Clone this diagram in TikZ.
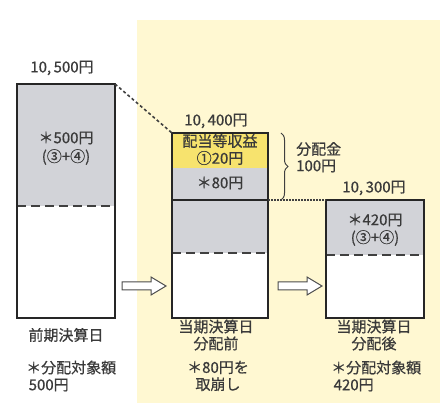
\documentclass[tikz,border=0pt]{standalone}
\usepackage{fontspec}
\setmainfont{Noto Sans CJK JP}[FakeBold=0.6]
\usetikzlibrary{decorations.pathreplacing}
\definecolor{bgyellow}{HTML}{FFF8D2}
\definecolor{boxgray}{HTML}{D2D3D8}
\definecolor{divyellow}{HTML}{F7E36E}
\definecolor{txt}{HTML}{3A3A3A}
\tikzset{
  boxline/.style={draw=black!85, line width=1.8pt},
  sepline/.style={draw=black!85, line width=2.4pt},
  dashsep/.style={draw=black!75, line width=1.6pt, dash pattern=on 9pt off 5pt},
  lbl/.style={text=txt, inner sep=0pt, align=center},
  hollowarrow/.style={draw=black!70, fill=white, line width=1pt, line join=miter},
}
\begin{document}
\begin{tikzpicture}[x=1pt,y=-1pt,font=\fontsize{15}{17}\selectfont]
\useasboundingbox (0,0) rectangle (440,403);
\fill[bgyellow] (137,20) rectangle (440,403);

% left box
\fill[boxgray] (17,84) rectangle (115,206);
\fill[white] (17,206) rectangle (115,318);
\draw[dashsep] (17,206) -- (115,206);
\draw[boxline] (17,84) rectangle (115,318);
\draw[sepline] (17,84) -- (115,84);
\coordinate (Ltr) at (115,84);
\node[lbl] (L0) at (62,68) {10,\,500円};
\node[lbl] (L1) at (66,138) {＊500円};
\node[lbl] (L2) at (66,157) {(③+④)};

% middle box
\fill[divyellow] (172,133) rectangle (268,168);
\fill[boxgray] (172,168) rectangle (268,253);
\fill[white] (172,253) rectangle (268,318);
\draw[dashsep] (172,253) -- (268,253);
\draw[boxline] (172,133) rectangle (268,318);
\draw[sepline] (172,200) -- (268,200);
\coordinate (Mtl) at (172,133);
\coordinate (Msep) at (268,200);
\node[lbl] (M0) at (216,121) {10,\,400円};
\node[lbl] (M1) at (220,141) {配当等収益};
\node[lbl] (M2) at (220,158) {①20円};
\node[lbl] (M3) at (220,183) {＊80円};

% right box
\fill[boxgray] (326,200) rectangle (424,255);
\fill[white] (326,255) rectangle (424,318);
\draw[dashsep] (326,255) -- (424,255);
\draw[boxline] (326,200) rectangle (424,318);
\coordinate (Rtl) at (326,200);
\node[lbl] (R0) at (374,188) {10,\,300円};
\node[lbl] (R1) at (375,220) {＊420円};
\node[lbl] (R2) at (375,238) {(③+④)};

% connectors
\draw[black!75, line width=1.6pt, dash pattern=on 3pt off 2.5pt] (Ltr) -- (Mtl);
\draw[black!75, line width=1.2pt, dash pattern=on 1.5pt off 1.5pt] (Msep) -- (Rtl);

% brace
\draw[black!75, line width=1pt, decorate, decoration={brace, amplitude=7pt}] (281,133) -- (281,200);
\node[lbl, anchor=west] (B1) at (296,149) {分配金};
\node[lbl, anchor=west] (B2) at (296,166) {100円};

% hollow arrows
\draw[hollowarrow] (122,282) -- (151,282) -- (151,277) -- (166,286) -- (151,295) -- (151,290) -- (122,290) -- cycle;
\draw[hollowarrow] (278,282) -- (307,282) -- (307,277) -- (322,286) -- (307,295) -- (307,290) -- (278,290) -- cycle;

% bottom labels
\node[lbl] (D1) at (66,335) {前期決算日};
\node[lbl] (D2) at (216,335) {当期決算日\\分配前};
\node[lbl] (D3) at (374,335) {当期決算日\\分配後};
\node[lbl, anchor=west, align=left] (N1) at (26,376) {＊分配対象額\\ \,500円};
\node[lbl] (N2) at (218,376) {＊80円を\\取崩し};
\node[lbl, anchor=west, align=left] (N3) at (331,376) {＊分配対象額\\ \,420円};
\end{tikzpicture}
\end{document}
